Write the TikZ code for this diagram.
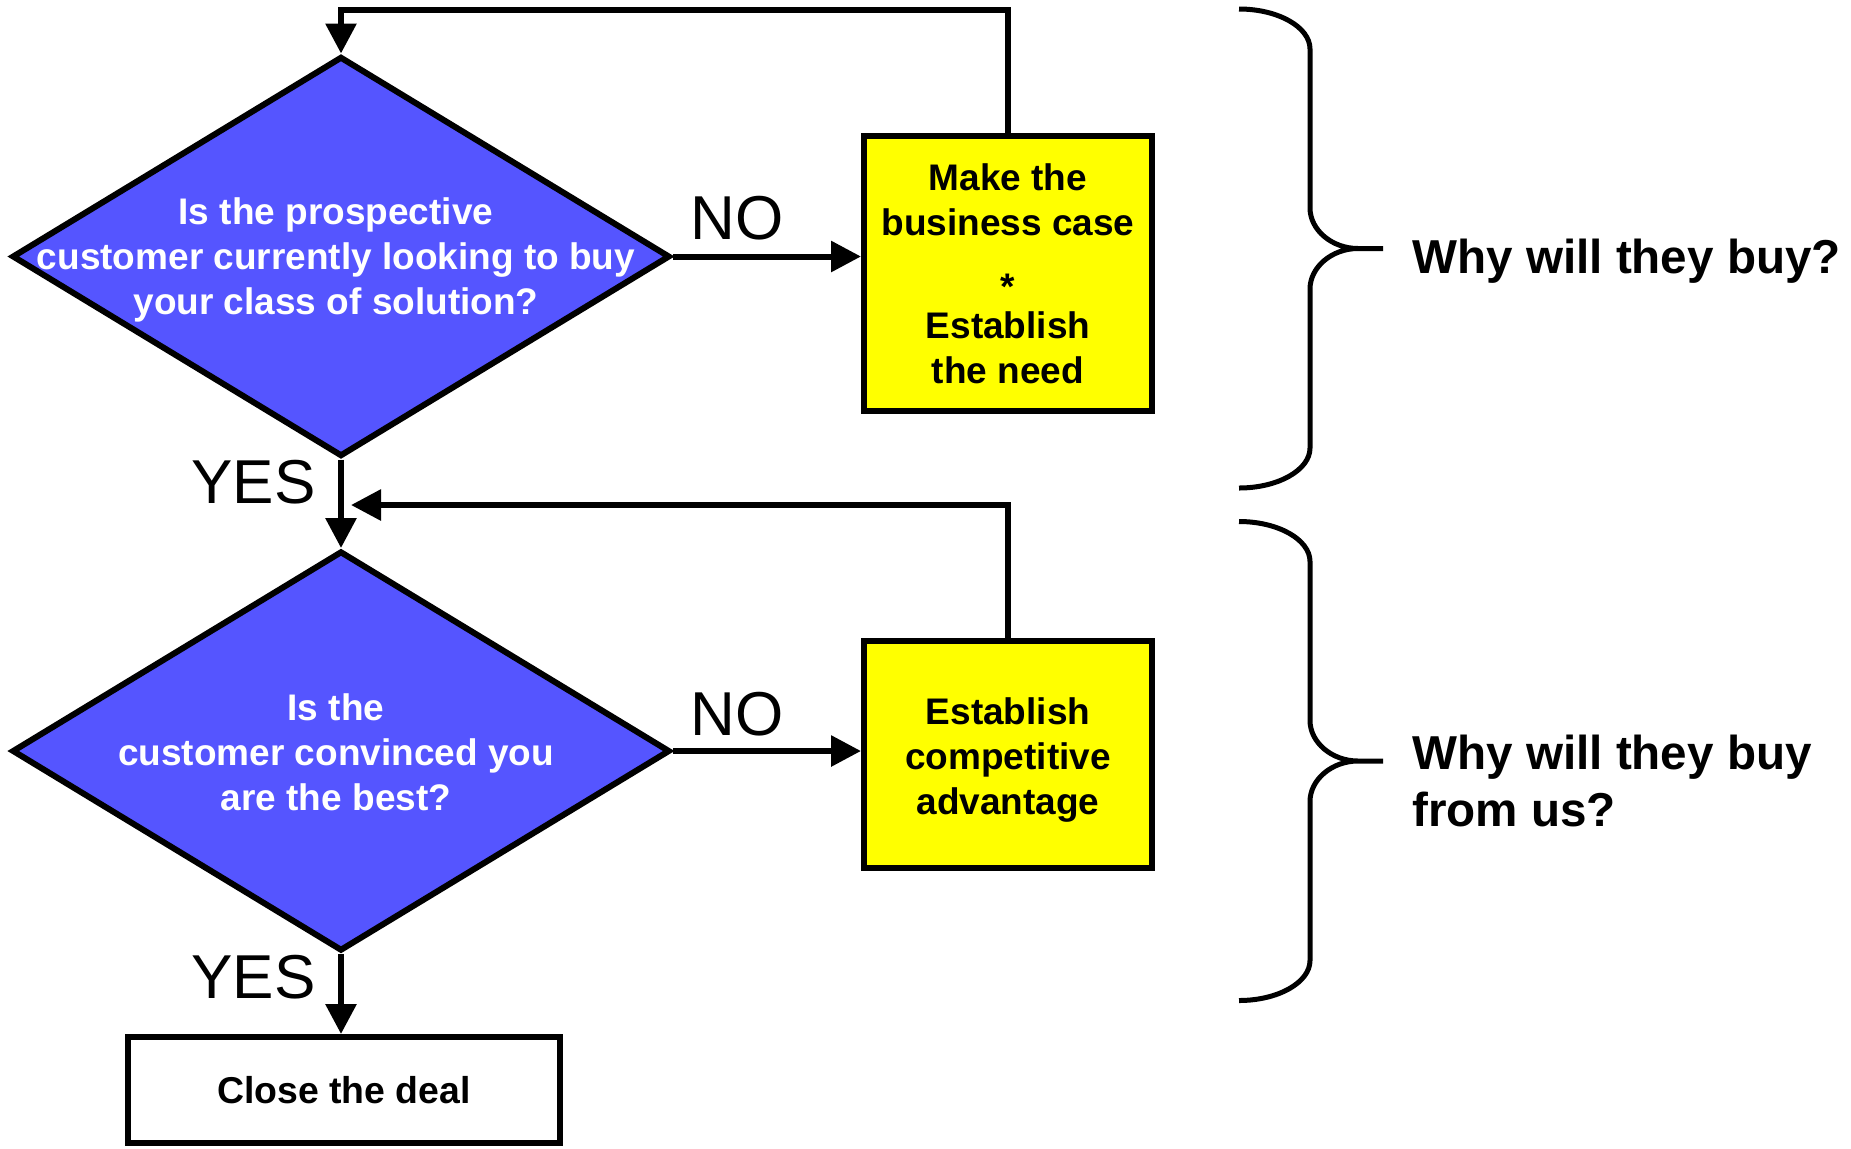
\documentclass[tikz,border=0pt]{standalone}
\usepackage{fontspec}
\setmainfont{Liberation Sans}
\usetikzlibrary{shapes.geometric,arrows.meta}
\definecolor{qblue}{RGB}{85,85,255}
\definecolor{ybox}{RGB}{255,255,0}
\begin{document}
\begin{tikzpicture}[x=0.5pt,y=-0.5pt,
  decision/.style={diamond, draw=black, line width=3pt, fill=qblue, minimum width=329pt, minimum height=200pt, inner sep=0pt},
  qtext/.style={text=white, font=\fontsize{18.5}{22.5}\selectfont\bfseries, align=center, inner sep=0pt},
  actbox/.style={rectangle, draw=black, line width=3pt, fill=ybox, minimum width=144pt, font=\fontsize{18.5}{22.5}\selectfont\bfseries, align=center, inner sep=0pt},
  endbox/.style={rectangle, draw=black, line width=3pt, fill=white, minimum width=216pt, minimum height=53pt, font=\fontsize{18.7}{22}\selectfont\bfseries},
  yn/.style={font=\fontsize{31}{31}\selectfont, inner sep=0pt},
  why/.style={font=\fontsize{23.8}{28.5}\selectfont\bfseries, align=left, inner sep=0pt},
  conn/.style={line width=3pt},
  arr/.style={conn, -{Triangle[length=15pt,width=15pt]}},
  bracepath/.style={line width=2.5pt}
]
\path[use as bounding box] (0,0) rectangle (1851,1148);

% decisions
\node[decision] (d1) at (341,256.5) {};
\node[qtext] (q1) at (336,260) {Is the prospective\\customer currently looking to buy\\your class of solution?};
\node[decision] (d2) at (341,751) {};
\node[qtext] (q2) at (336,752.5) {Is the\\customer convinced you\\are the best?};

% action boxes
\node[actbox, minimum height=137.5pt] (b1) at (1008,273.5) {Make the\\business case\\[9.5pt]*\\[-3pt]Establish\\the need};
\node[actbox, minimum height=113.5pt] (b2) at (1008,754.5) {\rule{0pt}{18.5pt}Establish\\competitive\\advantage};
\node[endbox] (close) at (344,1090) {Close the deal};

% labels
\node[yn, anchor=east] (yes1) at (316,482) {YES};
\node[yn, anchor=east] (yes2) at (316,977) {YES};
\node[yn] (no1) at (737,218) {NO};
\node[yn] (no2) at (737,714) {NO};

\node[why, anchor=base west] (w1) at (1412,273) {Why will they buy?};
\node[why, anchor=north west] (w2) at (1412,735) {Why will they buy\\from us?};

% connectors
\coordinate (topc) at (341,10);
\coordinate (retc) at (351,505);
\draw[arr] (d1.east) -- (d1.east -| b1.west);
\draw[arr] (b1.north) |- (topc) -- (d1.north);
\draw[arr] (d1.south) -- (d2.north);
\draw[arr] (b2.north) |- (retc);
\draw[arr] (d2.east) -- (d2.east -| b2.west);
\draw[arr] (d2.south) -- (d2.south |- close.north);

% braces
\draw[bracepath] (1239,9) .. controls (1278,9) and (1310,27) .. (1310,49) -- (1310,208)
  .. controls (1310,230) and (1332,248.5) .. (1358,248.5) -- (1383,248.5)
  (1358,248.5) .. controls (1332,248.5) and (1310,267) .. (1310,289) -- (1310,448)
  .. controls (1310,470) and (1278,488) .. (1239,488);
\begin{scope}[shift={(0,512.5)}]
\draw[bracepath] (1239,9) .. controls (1278,9) and (1310,27) .. (1310,49) -- (1310,208)
  .. controls (1310,230) and (1332,248.5) .. (1358,248.5) -- (1383,248.5)
  (1358,248.5) .. controls (1332,248.5) and (1310,267) .. (1310,289) -- (1310,448)
  .. controls (1310,470) and (1278,488) .. (1239,488);
\end{scope}
\end{tikzpicture}
\end{document}
